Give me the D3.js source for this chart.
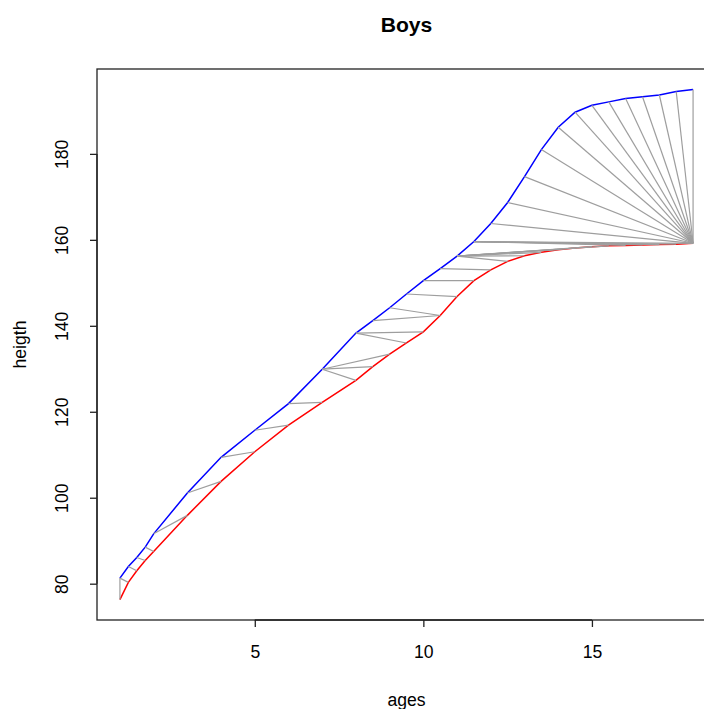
<!DOCTYPE html>
<html>
<head>
<meta charset="utf-8">
<script src="https://cdn.jsdelivr.net/npm/d3@7"></script>
<style>
  html, body { margin: 0; padding: 0; background: #fff; overflow: hidden; }
  svg { display: block; font-family: "Liberation Sans", Arial, sans-serif; }
</style>
</head>
<body>
<svg id="chart" width="704" height="709"></svg>
<script>
// Measurement ages (years)
const ages = [1, 1.25, 1.5, 1.75, 2, 3, 4, 5, 6, 7, 8, 8.5, 9, 9.5, 10, 10.5,
              11, 11.5, 12, 12.5, 13, 13.5, 14, 14.5, 15, 15.5, 16, 16.5, 17, 17.5, 18];

// Height curve of the first boy (cm)
const heightA = [81.3, 84.0, 86.1, 88.5, 91.6, 101.1, 109.4, 115.7, 121.9, 129.9, 138.3, 141.2,
                 144.2, 147.4, 150.5, 153.3, 156.2, 159.6, 163.8, 168.7, 174.7, 181.0, 186.2,
                 189.7, 191.3, 192.1, 192.9, 193.3, 193.7, 194.5, 195.0];

// Height curve of the second boy (cm)
const heightB = [76.3, 80.3, 83.0, 85.4, 87.5, 95.9, 103.8, 110.7, 116.9, 122.2, 127.3, 130.5,
                 133.4, 136.0, 138.6, 142.4, 146.8, 150.5, 153.0, 155.0, 156.3, 157.1, 157.7,
                 158.1, 158.4, 158.6, 158.7, 158.8, 158.9, 159.0, 159.2];

// Warping path: pairs of [age on curve A, age on curve B]
const warpPairs = [
  [1, 1], [1, 1.25], [1.25, 1.5], [1.5, 1.75], [1.75, 2], [2, 3], [3, 4], [4, 5], [5, 6],
  [6, 7], [7, 8], [7, 8.5], [7, 9], [8, 9.5], [8, 10], [8.5, 10.5], [9, 10.5], [9.5, 11],
  [10, 11.5], [10.5, 12], [11, 12.5], [11, 13], [11, 13.5], [11, 14], [11, 14.5], [11, 15],
  [11, 15.5], [11.5, 16], [11.5, 16.5], [11.5, 17], [11.5, 17.5], [11.5, 18],
  [12, 18], [12.5, 18], [13, 18], [13.5, 18], [14, 18], [14.5, 18], [15, 18], [15.5, 18],
  [16, 18], [16.5, 18], [17, 18], [17.5, 18], [18, 18]
];

const xTicks = [5, 10, 15];
const yTicks = [80, 100, 120, 140, 160, 180];

const svg = d3.select("#chart");
const plotLeft = 97, plotRight = 716, plotTop = 69, plotBottom = 620;
const fontSize = 17.6;

// Domains padded by 4% on each side
function padded(ext) {
  const p = (ext[1] - ext[0]) * 0.04;
  return [ext[0] - p, ext[1] + p];
}
const x = d3.scaleLinear().domain(padded(d3.extent(ages))).range([plotLeft, plotRight]);
const y = d3.scaleLinear()
  .domain(padded(d3.extent(heightA.concat(heightB))))
  .range([plotBottom, plotTop]);

const hA = new Map(ages.map((a, i) => [a, heightA[i]]));
const hB = new Map(ages.map((a, i) => [a, heightB[i]]));

const line = d3.line().x(d => x(d[0])).y(d => y(d[1]));

// Curves
svg.append("path")
  .datum(ages.map((a, i) => [a, heightA[i]]))
  .attr("d", line).attr("fill", "none")
  .attr("stroke", "#0000ff").attr("stroke-width", 1.5);

svg.append("path")
  .datum(ages.map((a, i) => [a, heightB[i]]))
  .attr("d", line).attr("fill", "none")
  .attr("stroke", "#ff0000").attr("stroke-width", 1.5);

// Warping segments
svg.append("g").selectAll("line")
  .data(warpPairs)
  .join("line")
  .attr("x1", d => x(d[0])).attr("y1", d => y(hA.get(d[0])))
  .attr("x2", d => x(d[1])).attr("y2", d => y(hB.get(d[1])))
  .attr("stroke", "#9e9e9e").attr("stroke-width", 1.2);

// Plot box
svg.append("rect")
  .attr("x", plotLeft).attr("y", plotTop)
  .attr("width", plotRight - plotLeft).attr("height", plotBottom - plotTop)
  .attr("fill", "none").attr("stroke", "#222").attr("stroke-width", 1.3);

// X axis
const xAxis = svg.append("g").attr("transform", `translate(0,${plotBottom})`)
  .call(d3.axisBottom(x).tickValues(xTicks).tickSize(7).tickPadding(19).tickFormat(d3.format("d")));
xAxis.select(".domain")
  .attr("d", `M${x(xTicks[0])},0H${x(xTicks[xTicks.length - 1])}`)
  .attr("stroke", "#222").attr("stroke-width", 1.3);
xAxis.selectAll(".tick line").attr("stroke", "#222").attr("stroke-width", 1.3);
xAxis.selectAll("text").attr("font-size", fontSize).attr("fill", "#000")
  .attr("font-family", "Liberation Sans, Arial, sans-serif");

// Y axis with vertical labels
const yAxis = svg.append("g").attr("transform", `translate(${plotLeft},0)`)
  .call(d3.axisLeft(y).tickValues(yTicks).tickSize(7).tickFormat(d3.format("d")));
yAxis.select(".domain")
  .attr("d", `M0,${y(yTicks[0])}V${y(yTicks[yTicks.length - 1])}`)
  .attr("stroke", "#222").attr("stroke-width", 1.3);
yAxis.selectAll(".tick line").attr("stroke", "#222").attr("stroke-width", 1.3);
yAxis.selectAll("text")
  .attr("font-size", fontSize).attr("fill", "#000")
  .attr("font-family", "Liberation Sans, Arial, sans-serif")
  .attr("x", null).attr("dy", null)
  .attr("text-anchor", "middle")
  .attr("transform", "translate(-29,0) rotate(-90)");

// Titles
svg.append("text")
  .attr("x", (plotLeft + plotRight) / 2).attr("y", 32)
  .attr("text-anchor", "middle")
  .attr("font-size", fontSize * 1.2).attr("font-weight", "bold")
  .text("Boys");

svg.append("text")
  .attr("x", (plotLeft + plotRight) / 2).attr("y", 706)
  .attr("text-anchor", "middle")
  .attr("font-size", fontSize)
  .text("ages");

svg.append("text")
  .attr("transform", `translate(26,${(plotTop + plotBottom) / 2}) rotate(-90)`)
  .attr("text-anchor", "middle")
  .attr("font-size", fontSize)
  .text("heigth");
</script>
</body>
</html>
